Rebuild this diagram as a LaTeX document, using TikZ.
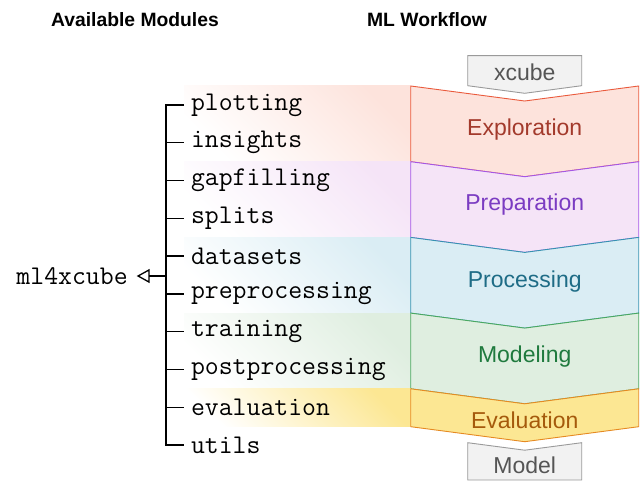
\documentclass[tikz,border=0pt]{standalone}
\usepackage{fontspec}
\setmainfont{Liberation Sans}
\usetikzlibrary{arrows.meta}

\definecolor{expfill}{HTML}{FDE3DC}
\definecolor{expline}{HTML}{EA5A3C}
\definecolor{exptext}{HTML}{A33A2C}
\definecolor{prepfill}{HTML}{F5E4F7}
\definecolor{prepline}{HTML}{A456E6}
\definecolor{preptext}{HTML}{7B3CC2}
\definecolor{procfill}{HTML}{DAEDF4}
\definecolor{procline}{HTML}{3592B0}
\definecolor{proctext}{HTML}{1E6C86}
\definecolor{modfill}{HTML}{DFEEE0}
\definecolor{modline}{HTML}{4AA860}
\definecolor{modtext}{HTML}{1F7A3E}
\definecolor{evalfill}{HTML}{FCE793}
\definecolor{evalline}{HTML}{E68A22}
\definecolor{evaltext}{HTML}{A55A0C}
\definecolor{boxfill}{HTML}{F2F2F2}
\definecolor{boxline}{HTML}{9A9A9A}
\definecolor{boxtext}{HTML}{555555}

\tikzset{
  title/.style={font=\fontsize{19.3}{22}\selectfont\bfseries},
  module/.style={anchor=west,inner xsep=7pt,inner ysep=0pt,outer sep=0pt,
    font=\fontsize{27}{30}\selectfont\ttfamily},
  stagelabel/.style={font=\fontsize{23}{26}\selectfont},
  iobox/.style={draw=boxline,fill=boxfill,line width=0.9pt},
  tree/.style={line width=1.3pt}
}

\begin{document}
\begin{tikzpicture}[x=1pt,y=-1pt]
 \useasboundingbox (0,0) rectangle (642,481);

 \node[title] (avail) at (135,20) {Available Modules};
 \node[title] (flow) at (427,20) {ML Workflow};

 % bands and stages
 \foreach \t/\b/\stg in {86/161.7/exp,161.7/237.4/prep,237.4/313.1/proc,313.1/388.8/mod,388.8/426.7/eval}{
  \shade[top color=\stg fill,bottom color=white,shading angle=-45] (184,\t) rectangle (410.7,\b);
  \draw[draw=\stg line,fill=\stg fill,line width=0.9pt] (410.7,\t) -- (524.7,{\t+15}) -- (638.7,\t)
    -- (638.7,\b) -- (524.7,{\b+15}) -- (410.7,\b) -- cycle;
 }
 \node[stagelabel,text=exptext] (exploration) at (524.7,130) {Exploration};
 \node[stagelabel,text=preptext] (preparation) at (524.7,205) {Preparation};
 \node[stagelabel,text=proctext] (processing) at (524.7,281.7) {Processing};
 \node[stagelabel,text=modtext] (modeling) at (524.7,356.7) {Modeling};
 \node[stagelabel,text=evaltext] (evaluation) at (524.7,420) {Evaluation};

 % input / output
 \draw[iobox] (467.7,55.7) -- (581.7,55.7) -- (581.7,85.7) -- (524.7,93.3) -- (467.7,85.7) -- cycle;
 \node[stagelabel,text=boxtext] (xcube) at (524.7,72) {xcube};
 \draw[iobox] (467.7,442.7) -- (524.7,450.2) -- (581.7,442.7) -- (581.7,480) -- (467.7,480) -- cycle;
 \node[stagelabel,text=boxtext] (model) at (524.7,465) {Model};

 % module tree
 \foreach \name [count=\i from 0] in {plotting,insights,gapfilling,splits,datasets,preprocessing,training,postprocessing,evaluation,utils}{
  \node[module] (m\i) at (184,{86+18.9*(2*\i+1)}) {\name};
  \coordinate (t\i) at (166,{86+18.9*(2*\i+1)});
 }
 \foreach \i in {1,...,8}
  \draw[tree] (t\i) -- (m\i);
 \draw[tree] (m0) -- (t0) -- (t9) -- (m9);
 \node[module,anchor=east,inner xsep=9pt] (root) at (136.7,276) {ml4xcube};
 \coordinate (r) at (166,276);
 \draw[tree,-{Triangle[open,length=13pt,width=14pt]}] (r) -- (root);
\end{tikzpicture}
\end{document}
